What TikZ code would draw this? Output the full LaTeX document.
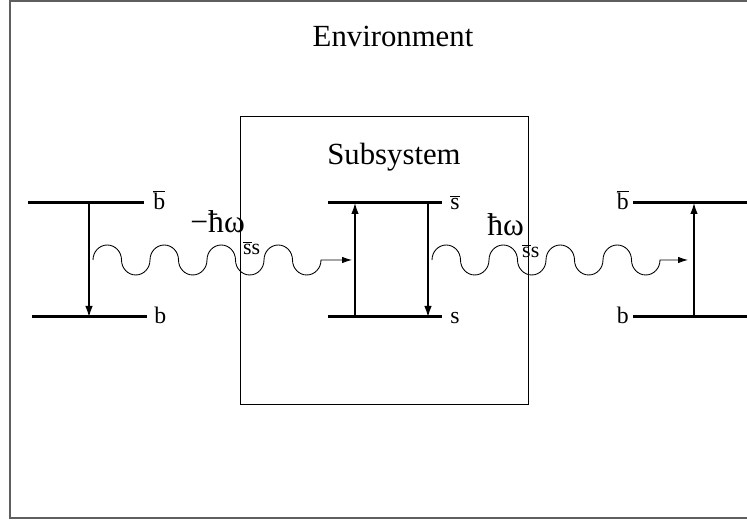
\documentclass[tikz,border=0pt]{standalone}
\usepackage{fontspec}
\setmainfont{Liberation Serif}
\usetikzlibrary{arrows.meta}
\definecolor{framegray}{RGB}{95, 95, 95}

\tikzset{
    levelline/.style={line width=1.7pt},
    trans/.style={line width=0.7pt, -{Latex[length=2.2mm, width=1.5mm]}},
    wave/.style={line width=0.5pt, -{Latex[length=2mm, width=1.3mm]}},
    lvllabel/.style={font=\fontsize{13.5}{15}\selectfont, inner sep=0pt},
    boxtitle/.style={font=\fontsize{17.5}{20}\selectfont, inner sep=0pt},
    wavelabel/.style={font=\fontsize{18}{20}\selectfont, inner sep=0pt}
}
\newcommand{\barred}[1]{$\overline{\mbox{#1}}$}
\newcommand{\wavesub}{\kern-1pt\raisebox{-12.5pt}{\fontsize{12.5}{13}\selectfont\barred{s}s}}

\begin{document}
\begin{tikzpicture}
\useasboundingbox (0,0) rectangle (14.94,10.40);

% === Marcos: entorno y subsistema ===
\draw[framegray, line width=0.8pt] (15.2,10.38) -| (0.2,0.04) -- (15.2,0.04);
\draw[line width=0.5pt] (4.8,2.32) rectangle (10.56,8.08);
\node[boxtitle, anchor=base] (env) at (7.86,9.46) {Environment};
\node[boxtitle, anchor=base] (subsys) at (7.88,7.10) {Subsystem};

% === Niveles del entorno (izquierda) ===
\draw[levelline] (0.56,6.34) -- (2.88,6.34);
\draw[levelline] (0.64,4.06) -- (2.94,4.06);
\node[lvllabel, anchor=base west] (bbarL) at (3.06,6.20) {\barred{b}};
\node[lvllabel, anchor=base west] (bL) at (3.08,3.92) {b};
\coordinate (tLa) at (1.78,6.34);
\coordinate (tLb) at (1.78,4.06);
\draw[trans] (tLa) -- (tLb);

% === Niveles del subsistema (centro) ===
\draw[levelline] (6.56,6.34) -- (8.84,6.34);
\draw[levelline] (6.56,4.06) -- (8.84,4.06);
\node[lvllabel, anchor=base west] (sbar) at (9.00,6.20) {\barred{s}};
\node[lvllabel, anchor=base west] (s) at (9.00,3.92) {s};
\coordinate (tUa) at (7.10,4.06);
\coordinate (tUb) at (7.10,6.34);
\coordinate (tDa) at (8.56,6.34);
\coordinate (tDb) at (8.56,4.06);
\draw[trans] (tUa) -- (tUb);
\draw[trans] (tDa) -- (tDb);

% === Niveles del entorno (derecha) ===
\draw[levelline] (12.66,6.34) -- (15.2,6.34);
\draw[levelline] (12.66,4.06) -- (15.2,4.06);
\node[lvllabel, anchor=base east] (bbarR) at (12.58,6.20) {\barred{b}};
\node[lvllabel, anchor=base east] (bR) at (12.58,3.92) {b};
\coordinate (tRa) at (13.88,4.06);
\coordinate (tRb) at (13.88,6.34);
\draw[trans] (tRa) -- (tRb);

% === Fotones ===
\coordinate (wL) at (1.86,5.2);
\coordinate (wLtip) at (7.04,5.2);
\draw[wave] (wL)
    \foreach \k in {1,...,4} {
        arc[start angle=180, end angle=0, x radius=0.285, y radius=0.3]
        arc[start angle=180, end angle=360, x radius=0.285, y radius=0.3]
    } -- (wLtip);
\node[wavelabel, anchor=base west] (emit) at (3.80,5.74) {−ħω\wavesub};

\coordinate (wR) at (8.64,5.2);
\coordinate (wRtip) at (13.76,5.2);
\draw[wave] (wR)
    \foreach \k in {1,...,4} {
        arc[start angle=180, end angle=0, x radius=0.285, y radius=0.3]
        arc[start angle=180, end angle=360, x radius=0.285, y radius=0.3]
    } -- (wRtip);
\node[wavelabel, anchor=base west] (absorb) at (9.74,5.68) {ħω\wavesub};

\end{tikzpicture}
\end{document}
